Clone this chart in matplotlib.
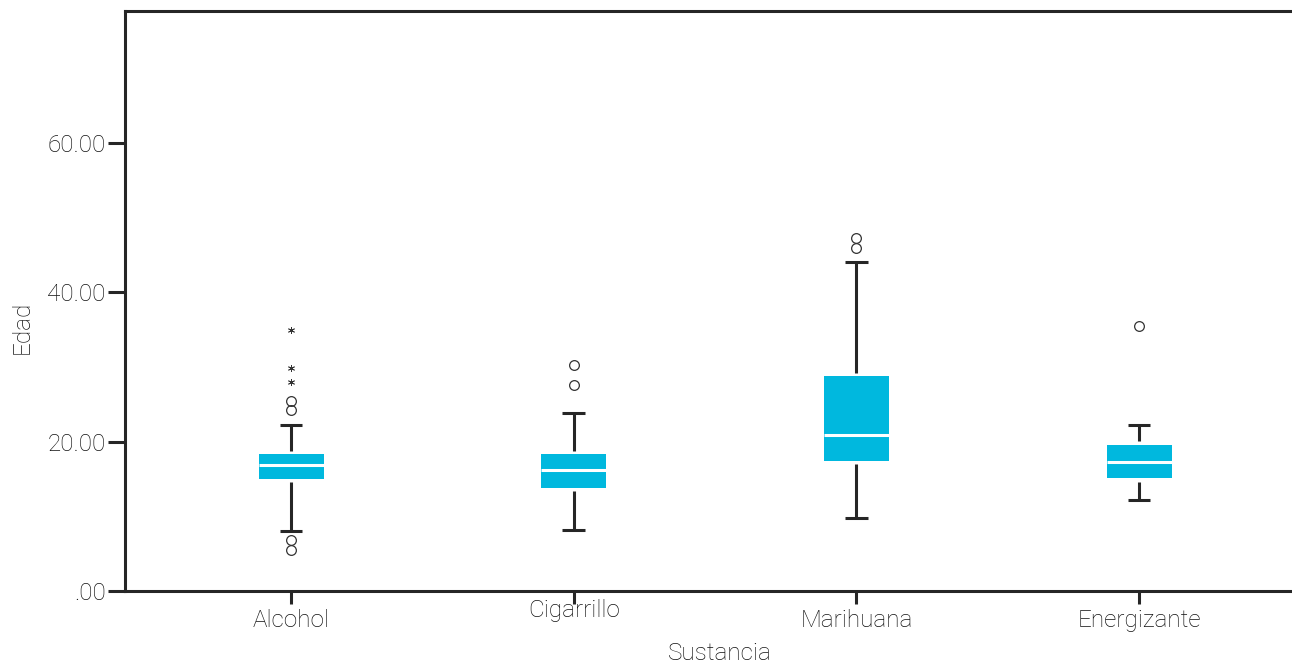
import matplotlib
matplotlib.use("Agg")
import matplotlib.pyplot as plt
from matplotlib.transforms import ScaledTranslation

plt.rcParams['font.family'] = ['Roboto', 'DejaVu Sans']
plt.rcParams['font.weight'] = 'light'
plt.rcParams['axes.labelweight'] = 'light'

categories = ["Alcohol", "Cigarrillo", "Marihuana", "Energizante"]
q1 = [15.0, 13.8, 17.4, 15.1]
median = [16.9, 16.2, 20.9, 17.3]
q3 = [18.35, 18.35, 28.8, 19.6]
whisker_low = [8.0, 8.2, 9.8, 12.2]
whisker_high = [22.2, 23.8, 44.1, 22.2]
# mild outliers (circles) and extreme outliers (stars)
circle_outliers = [[25.5, 24.3, 6.8, 5.5], [30.3, 27.6], [47.3, 46.0], [35.5]]
star_outliers = [[35.0, 29.9, 28.0], [], [], []]
yticks = [0, 20, 40, 60]
ytick_labels = [".00", "20.00", "40.00", "60.00"]

box_color = "#00B8DE"
line_color = "#262626"
text_color = "#111111"

fig = plt.figure(figsize=(12.92, 6.64), dpi=100)
ax = fig.add_axes([125/1292, 73/664, 1 - 125/1292, 580/664])

pos = list(range(1, len(categories) + 1))
bw = 0.23
cw = 0.08
gap = 0.45

ax.bar(pos, [b - a for a, b in zip(q1, q3)], bottom=q1, width=bw,
       color=box_color, edgecolor="none", zorder=2)
ax.hlines(median, [p - bw/2 for p in pos], [p + bw/2 for p in pos],
          color="white", linewidth=2.2, zorder=3)
ax.vlines(pos, [q + gap for q in q3], whisker_high, color=line_color, linewidth=2.2, zorder=2)
ax.vlines(pos, whisker_low, [q - gap for q in q1], color=line_color, linewidth=2.2, zorder=2)
ax.hlines(whisker_high, [p - cw/2 for p in pos], [p + cw/2 for p in pos],
          color=line_color, linewidth=2.2, zorder=2)
ax.hlines(whisker_low, [p - cw/2 for p in pos], [p + cw/2 for p in pos],
          color=line_color, linewidth=2.2, zorder=2)

for p, vals in zip(pos, circle_outliers):
    if vals:
        ax.plot([p] * len(vals), vals, linestyle="none", marker="o", markersize=7,
                markerfacecolor="none", markeredgecolor="#333333", markeredgewidth=0.9, zorder=4)
for p, vals in zip(pos, star_outliers):
    if vals:
        ax.plot([p] * len(vals), vals, linestyle="none", marker=(6, 2, 0), markersize=5,
                color="#333333", markeredgewidth=0.6, zorder=4)

ax.set_xlim(0.4127, 4.541)
ax.set_ylim(0, 77.7)
ax.set_yticks(yticks)
ax.set_yticklabels(ytick_labels)
ax.set_xticks(pos)
ax.set_xticklabels(categories)

for s in ["left", "top", "bottom"]:
    ax.spines[s].set_linewidth(2.2)
    ax.spines[s].set_color(line_color)
ax.spines["right"].set_visible(False)

ax.tick_params(axis="y", direction="out", length=12, width=2.2, color=line_color,
               labelsize=17.5, labelcolor=text_color, pad=2)
ax.tick_params(axis="x", direction="out", length=9, width=2.2, color=line_color,
               labelsize=17.5, labelcolor=text_color, pad=4)

labs = ax.get_xticklabels()
labs[1].set_transform(labs[1].get_transform() + ScaledTranslation(0, 10/100, fig.dpi_scale_trans))

ax.set_xlabel("Sustancia", fontsize=17.5, color=text_color)
ax.set_ylabel("Edad", fontsize=17.5, color=text_color)
ax.xaxis.set_label_coords((720 - 125) / 1167, -(653 - 591) / 580)
ax.yaxis.set_label_coords(-(125 - 22) / 1167, (591 - 327) / 580)
ax.xaxis.label.set_verticalalignment("center")
ax.yaxis.label.set_verticalalignment("center")

fig.savefig("out.png", dpi=100)
